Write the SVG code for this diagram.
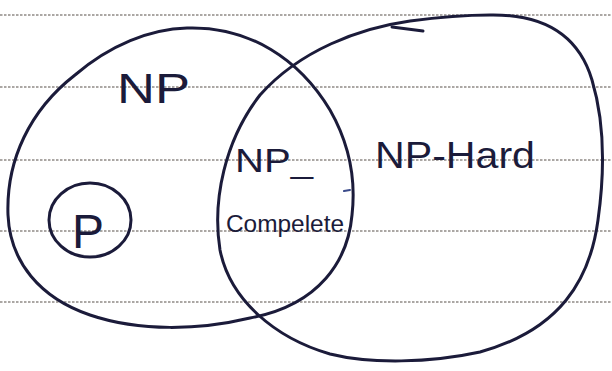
<svg xmlns="http://www.w3.org/2000/svg" width="612" height="371" viewBox="0 0 612 371">
<style>
.rule{stroke:#6a625c;stroke-width:1.3;stroke-dasharray:2.5 1.5;fill:none;opacity:0.75}
.ink{fill:none;stroke:#1b1b3a;stroke-width:3;stroke-linecap:round;stroke-linejoin:round}
.lbl{fill:#1b1b3a;font-family:"Liberation Sans",Arial,sans-serif}
</style>
<rect width="612" height="371" fill="#ffffff"/>
<g id="paper-rules">
<line class="rule" x1="0" y1="15" x2="612" y2="15"/>
<line class="rule" x1="0" y1="87" x2="612" y2="87"/>
<line class="rule" x1="0" y1="160" x2="612" y2="160"/>
<line class="rule" x1="0" y1="231" x2="612" y2="231"/>
<line class="rule" x1="0" y1="302" x2="612" y2="302"/>
</g>
<g id="np">
<path class="ink" d="M 187,28 C 250,26 300,60 330,110 C 350,145 356,180 352,215 C 348,260 320,305 250,318 C 200,330 140,332 90,315 C 40,298 10,262 8,215 C 6,160 30,110 75,75 C 110,45 150,29 187,28 Z"/>
<path d="M 344,191 L 350,190" fill="none" stroke="#3a4a8a" stroke-width="2" stroke-linecap="round"/>
<text class="lbl" x="117" y="103" font-size="42" textLength="73" lengthAdjust="spacingAndGlyphs">NP</text>
</g>
<g id="np-hard">
<path class="ink" d="M 490,15 C 550,14 580,40 592,80 C 604,120 605,170 598,220 C 590,280 560,330 480,352 C 430,363 370,364 330,354 C 275,338 230,300 220,250 C 212,200 225,140 260,95 C 300,50 360,28 410,21 C 440,17 465,15 490,15 Z"/>
<path class="ink" d="M 392,27 L 423,31"/>
<text class="lbl" x="375" y="168" font-size="36" textLength="160" lengthAdjust="spacingAndGlyphs">NP-Hard</text>
</g>
<g id="p">
<ellipse class="ink" cx="90" cy="220" rx="41" ry="37"/>
<text class="lbl" x="88" y="248" font-size="48" text-anchor="middle">P</text>
</g>
<g id="np-complete">
<text class="lbl" x="235" y="172" font-size="34" textLength="78" lengthAdjust="spacingAndGlyphs">NP_</text>
<text class="lbl" x="226" y="232" font-size="24" textLength="118" lengthAdjust="spacingAndGlyphs">Compelete</text>
</g>
<g id="connectors"></g>
</svg>
